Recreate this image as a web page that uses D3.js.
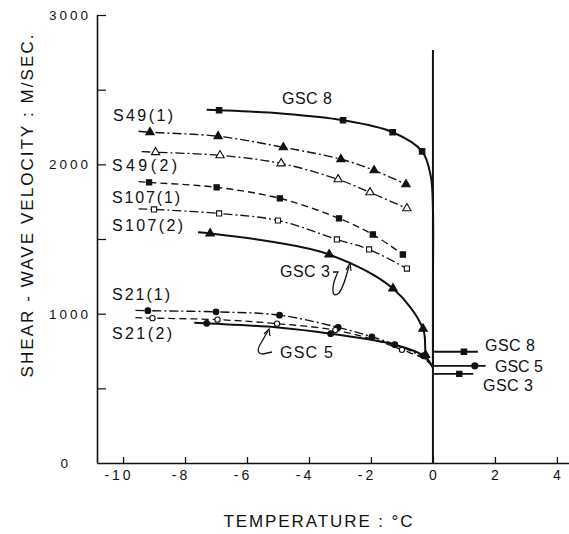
<!DOCTYPE html>
<html><head><meta charset="utf-8">
<script src="https://cdn.jsdelivr.net/npm/d3@7"></script>
<style>
html,body{margin:0;padding:0;background:#fff;}
svg{display:block;}
text{font-family:"Liberation Sans",Arial,sans-serif;fill:#111;}
</style></head>
<body>
<svg id="chart" width="569" height="534"></svg>
<script>
// ---------- DATA ----------
const xTicks = [-10, -8, -6, -4, -2, 0, 2, 4];
const xTickLabels = ["-10", "-8", "-6", "-4", "-2", "0", "2", "4"];
const yTicks = [0, 500, 1000, 1500, 2000, 2500, 3000];
const yTickLabels = ["0", "", "1000", "", "2000", "", "3000"];
const xTitle = "TEMPERATURE : °C";
const yTitle = "SHEAR - WAVE VELOCITY : M/SEC.";

// Curves: [temperature °C, velocity m/s]
const gsc8Line   = [[-7.3,2365],[-6.9,2362],[-4.9,2340],[-2.9,2295],[-1.3,2215],[-0.35,2087],[-0.07,1920],[0,1700],[0,1200],[0,640]];
const gsc8Pts    = [[-6.9,2362],[-2.9,2295],[-1.3,2215],[-0.35,2087]];
const s49aLine   = [[-9.5,2222],[-9.13,2215],[-6.93,2188],[-4.83,2114],[-2.97,2034],[-1.9,1960],[-0.87,1866]];
const s49aPts    = [[-9.13,2215],[-6.93,2188],[-4.83,2114],[-2.97,2034],[-1.9,1960],[-0.87,1866]];
const s49bLine   = [[-9.4,2085],[-8.95,2081],[-6.87,2060],[-4.9,2006],[-3.06,1899],[-2.03,1812],[-0.84,1705]];
const s49bPts    = [[-8.95,2081],[-6.87,2060],[-4.9,2006],[-3.06,1899],[-2.03,1812],[-0.84,1705]];
const s107aLine  = [[-9.5,1884],[-9.16,1879],[-6.98,1846],[-4.94,1772],[-3.03,1638],[-1.94,1530],[-0.97,1396]];
const s107aPts   = [[-9.16,1879],[-6.98,1846],[-4.94,1772],[-3.03,1638],[-1.94,1530],[-0.97,1396]];
const s107bLine  = [[-9.5,1702],[-9.0,1698],[-6.9,1671],[-5.0,1624],[-3.1,1497],[-2.06,1430],[-0.84,1302]];
const s107bPts   = [[-9.0,1698],[-6.9,1671],[-5.0,1624],[-3.1,1497],[-2.06,1430],[-0.84,1302]];
const gsc3Line   = [[-7.58,1545],[-7.19,1537],[-5.2,1482],[-3.35,1396],[-1.29,1168],[-0.32,899],[-0.22,723],[0,640]];
const gsc3Pts    = [[-7.19,1537],[-3.35,1396],[-1.29,1168],[-0.32,899],[-0.24,723]];
const s21aLine   = [[-9.6,1022],[-9.2,1020],[-7.0,1012],[-4.95,990],[-3.06,908],[-1.97,845],[-1.0,775],[-0.3,705],[0,645]];
const s21aPts    = [[-9.2,1020],[-7.0,1012],[-4.95,990],[-3.06,908],[-1.97,845]];
const s21bLine   = [[-9.6,973],[-9.05,970],[-6.95,960],[-5.03,933],[-3.15,890],[-1.7,812],[-1.0,758],[-0.3,700],[0,645]];
const s21bPts    = [[-9.05,970],[-6.95,960],[-5.03,933],[-3.15,890],[-1.0,758]];
const gsc5Line   = [[-7.7,940],[-7.3,935],[-5.0,908],[-3.3,866],[-1.23,792],[-0.3,718],[0,640]];
const gsc5Pts    = [[-7.3,935],[-3.3,866],[-1.23,792],[-0.3,718]];
// values above 0 °C
const gsc8Right  = [[0,745],[1.45,745]];
const gsc8RPts   = [[1.0,745]];
const gsc5Right  = [[0,651],[1.7,651]];
const gsc5RPts   = [[1.35,651]];
const gsc3Right  = [[0,597],[1.3,597]];
const gsc3RPts   = [[0.85,597]];
const zeroLine   = [[0,2765],[0,0]];

const labelTexts = ["GSC 8","S49(1)","S49(2)","S107(1)","S107(2)","GSC 3","S21(1)","S21(2)","GSC 5","GSC 8","GSC 5","GSC 3"];

// ---------- LAYOUT ----------
const svg = d3.select("#chart");
const x = d3.scaleLinear().domain([-10.84, 4.39]).range([97, 569]);
const y = d3.scaleLinear().domain([0, 3000]).range([463, 15]);

// axes
const xAxis = d3.axisBottom(x).tickValues(xTicks).tickSizeInner(-6).tickSizeOuter(0).tickFormat(() => "");
const gx = svg.append("g").attr("transform", `translate(0,${y(0)})`).call(xAxis);
gx.select(".domain").attr("stroke", "#111").attr("stroke-width", 1.4);
gx.selectAll(".tick line").attr("stroke", "#111").attr("stroke-width", 1.3);

const yAxis = d3.axisLeft(y).tickValues(yTicks.filter(v => v > 0)).tickSizeInner(-9).tickSizeOuter(0).tickFormat(() => "");
const gy = svg.append("g").attr("transform", `translate(${x.range()[0]},0)`).call(yAxis);
gy.select(".domain").attr("stroke", "#111").attr("stroke-width", 1.6);
gy.selectAll(".tick line").attr("stroke", "#111").attr("stroke-width", 1.2);

// tick labels
svg.append("g").selectAll("text").data(xTicks).join("text")
  .attr("x", (d,i) => x(d) + (d < 0 ? -4 : 0))
  .attr("y", 480)
  .attr("text-anchor", "middle")
  .attr("font-size", 14)
  .attr("letter-spacing", (d) => d < 0 ? 3 : 0)
  .text((d,i) => xTickLabels[i]);

svg.append("g").selectAll("text").data(yTicks).join("text")
  .attr("x", d => d === 0 ? 71 : 91)
  .attr("y", d => y(d) + 5)
  .attr("text-anchor", "end")
  .attr("font-size", 13.5)
  .attr("letter-spacing", 3)
  .text((d,i) => yTickLabels[i]);

// titles
svg.append("text").attr("x", 318).attr("y", 527).attr("text-anchor", "middle")
  .attr("font-size", 17).attr("textLength", 189).attr("lengthAdjust", "spacing").text(xTitle);
svg.append("text").attr("transform", "translate(33,206) rotate(-90)").attr("text-anchor", "middle")
  .attr("font-size", 17).attr("textLength", 343).attr("lengthAdjust", "spacing").text(yTitle);

// lines
const curve = d3.line().x(d => x(d[0])).y(d => y(d[1])).curve(d3.curveCatmullRom.alpha(0.5));
const straight = d3.line().x(d => x(d[0])).y(d => y(d[1]));
const DASHDOT = "9,3,2,3";
const DASH = "7,4";
const series = [
  {line: gsc8Line, pts: gsc8Pts, dash: null, w: 2.0, sym: d3.symbolSquare, fill: "#111", size: 30},
  {line: s49aLine, pts: s49aPts, dash: DASHDOT, w: 1.4, sym: d3.symbolTriangle, fill: "#111", size: 30},
  {line: s49bLine, pts: s49bPts, dash: DASHDOT, w: 1.3, sym: d3.symbolTriangle, fill: "#fff", size: 30},
  {line: s107aLine, pts: s107aPts, dash: DASH, w: 1.4, sym: d3.symbolSquare, fill: "#111", size: 28},
  {line: s107bLine, pts: s107bPts, dash: DASHDOT, w: 1.3, sym: d3.symbolSquare, fill: "#fff", size: 26},
  {line: gsc3Line, pts: gsc3Pts, dash: null, w: 2.0, sym: d3.symbolTriangle, fill: "#111", size: 32},
  {line: s21aLine, pts: s21aPts, dash: DASHDOT, w: 1.4, sym: d3.symbolCircle, fill: "#111", size: 26},
  {line: s21bLine, pts: s21bPts, dash: DASH, w: 1.3, sym: d3.symbolCircle, fill: "#fff", size: 22},
  {line: gsc5Line, pts: gsc5Pts, dash: null, w: 2.0, sym: d3.symbolCircle, fill: "#111", size: 26},
  {line: gsc8Right, pts: gsc8RPts, dash: null, w: 1.8, sym: d3.symbolSquare, fill: "#111", size: 30, flat: true},
  {line: gsc5Right, pts: gsc5RPts, dash: null, w: 1.8, sym: d3.symbolCircle, fill: "#111", size: 30, flat: true},
  {line: gsc3Right, pts: gsc3RPts, dash: null, w: 1.8, sym: d3.symbolSquare, fill: "#111", size: 28, flat: true},
];

svg.append("path").attr("d", straight(zeroLine)).attr("stroke", "#111").attr("stroke-width", 2).attr("fill", "none");

series.forEach(s => {
  svg.append("path").attr("d", (s.flat ? straight : curve)(s.line))
    .attr("fill", "none").attr("stroke", "#111").attr("stroke-width", s.w)
    .attr("stroke-dasharray", s.dash);
  svg.append("g").selectAll("path").data(s.pts).join("path")
    .attr("transform", d => `translate(${x(d[0])},${y(d[1])})`)
    .attr("d", d3.symbol().type(s.sym).size(s.size))
    .attr("fill", s.fill).attr("stroke", "#111").attr("stroke-width", 1.1);
});

// series labels
const labelPos = [
  [282,104,50],[113,121,60],[112,171,65],[112,203,68],[112,231,71],[280,277,50],
  [112,300,58],[112,339,60],[280,358,53],[485,351,50],[495,372,48],[483,391,50]
];
svg.append("g").selectAll("text").data(labelTexts).join("text")
  .attr("x", (d,i) => labelPos[i][0]).attr("y", (d,i) => labelPos[i][1])
  .attr("font-size", 16)
  .attr("textLength", (d,i) => labelPos[i][2]).attr("lengthAdjust", "spacing")
  .text(d => d);

// annotation arrows
const ann = svg.append("g").attr("fill", "none").attr("stroke", "#111").attr("stroke-width", 1.3);
ann.append("path").attr("d", "M333,272 L338,272 C331,286 331,300 339,293 C343,288 346,278 349,266");
ann.append("path").attr("d", "M346,270 L350,263 L351,271").attr("stroke-width", 1.2);
ann.append("path").attr("d", "M272,352 L263,354 C257,354 257,349 261,343 L268,331");
ann.append("path").attr("d", "M264,334 L269,329 L270,336").attr("stroke-width", 1.2);
</script>
</body></html>
